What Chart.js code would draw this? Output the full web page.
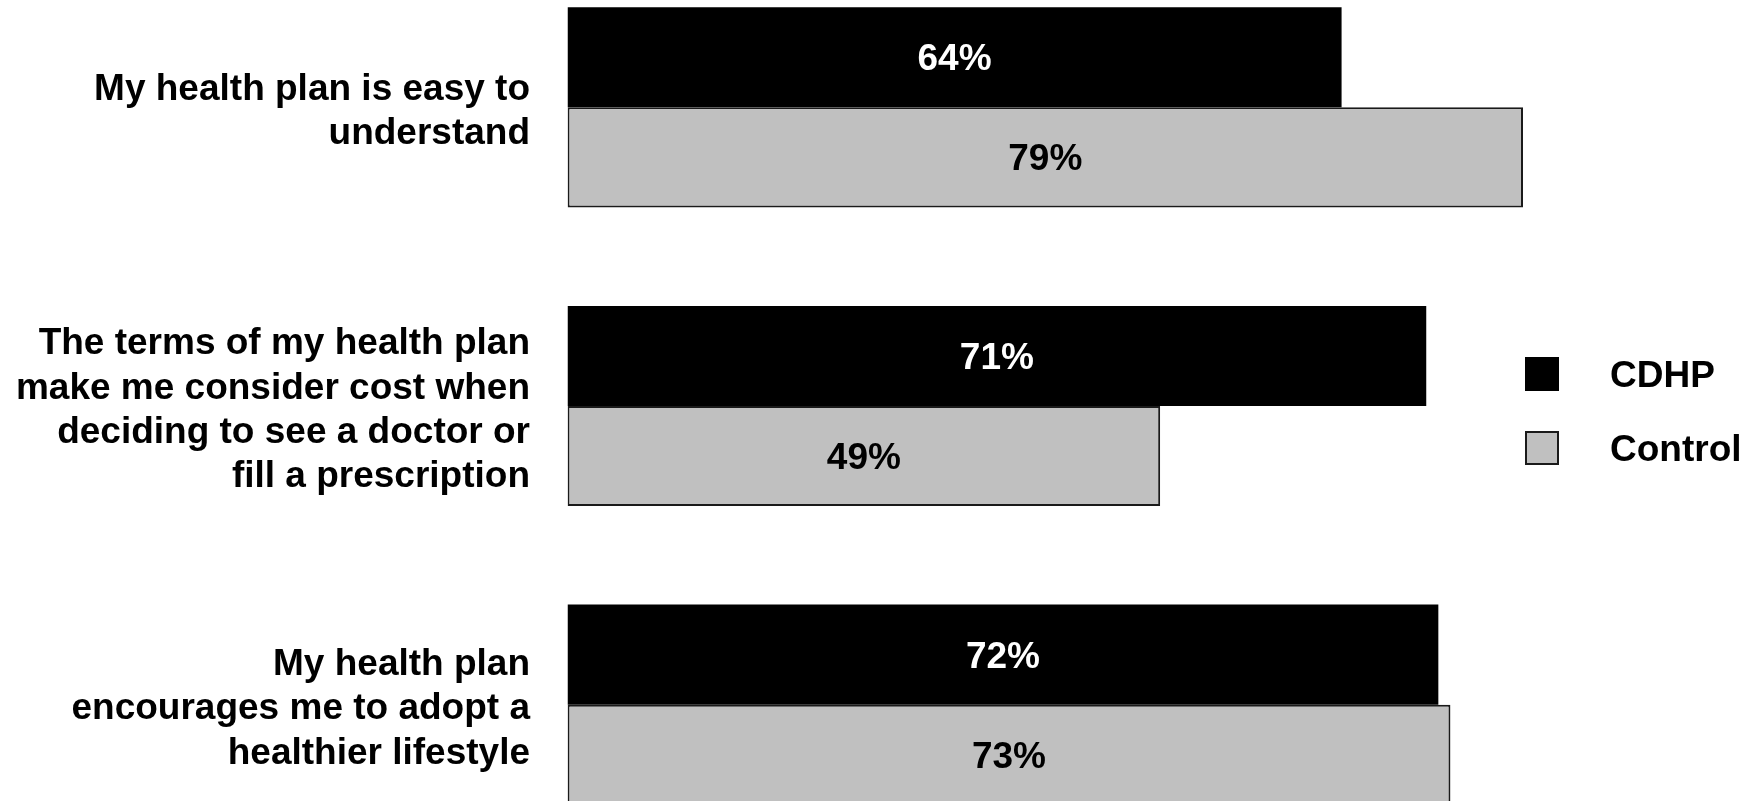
<!DOCTYPE html>
<html>
<head>
<meta charset="utf-8">
<script src="https://cdn.jsdelivr.net/npm/chart.js@4.4.1/dist/chart.umd.min.js"></script>
<style>
  html, body { margin: 0; padding: 0; background: #ffffff; overflow: hidden; width: 1755px; height: 801px; }
  #wrap { position: absolute; left: 0; top: -42px; width: 1777px; height: 896px; }
</style>
</head>
<body>
<div id="wrap"><canvas id="c" width="1777" height="896"></canvas></div>
<script>
// Survey statements (multi-line category labels)
const categories = [
  ["My health plan is easy to", "understand"],
  ["The terms of my health plan", "make me consider cost when", "deciding to see a doctor or", "fill a prescription"],
  ["My health plan", "encourages me to adopt a", "healthier lifestyle"]
];
const seriesNames = ["CDHP", "Control"];
// Percent agreeing, per group
const cdhpValues = [64, 71, 72];
const controlValues = [79, 49, 73];

const FONT = "'Liberation Sans', Arial, Helvetica, sans-serif";
const WRAP_TOP = 42; // canvas sits 42px above the page top
const BLACK = "#000000";
const GREY = "#c0c0c0";
const EDGE = "#1a1a1a";

// Percentages written in the middle of each bar
const barValueLabels = {
  id: "barValueLabels",
  afterDatasetsDraw(chart) {
    const ctx = chart.ctx;
    ctx.save();
    ctx.font = "bold 37px " + FONT;
    ctx.textAlign = "center";
    ctx.textBaseline = "alphabetic";
    chart.data.datasets.forEach((ds, di) => {
      const meta = chart.getDatasetMeta(di);
      meta.data.forEach((bar, i) => {
        const cx = (bar.x + bar.base) / 2;
        ctx.fillStyle = di === 0 ? "#ffffff" : "#000000";
        ctx.fillText(ds.data[i] + "%", cx, bar.y + 13);
      });
    });
    ctx.restore();
  }
};

// Legend boxes at the right side
const sideLegend = {
  id: "sideLegend",
  afterDraw(chart) {
    const ctx = chart.ctx;
    ctx.save();
    const boxX = 1525, size = 34;
    const rows = [357, 431];
    chart.data.datasets.forEach((ds, di) => {
      const y = rows[di] + WRAP_TOP;
      ctx.fillStyle = ds.backgroundColor;
      ctx.fillRect(boxX, y, size, size);
      if (di === 1) {
        ctx.strokeStyle = EDGE;
        ctx.lineWidth = 2;
        ctx.strokeRect(boxX + 1, y + 1, size - 2, size - 2);
      }
      ctx.fillStyle = "#000000";
      ctx.font = "bold 37px " + FONT;
      ctx.textAlign = "left";
      ctx.textBaseline = "alphabetic";
      ctx.fillText(ds.label, 1610, y + size / 2 + 13);
    });
    ctx.restore();
  }
};

new Chart(document.getElementById("c"), {
  type: "bar",
  data: {
    labels: categories,
    datasets: [
      {
        label: seriesNames[0],
        data: cdhpValues,
        backgroundColor: BLACK,
        borderColor: BLACK,
        borderWidth: 0,
        categoryPercentage: 0.67,
        barPercentage: 1.0
      },
      {
        label: seriesNames[1],
        data: controlValues,
        backgroundColor: GREY,
        borderColor: EDGE,
        borderWidth: 2,
        borderSkipped: false,
        categoryPercentage: 0.67,
        barPercentage: 1.0
      }
    ]
  },
  options: {
    indexAxis: "y",
    responsive: false,
    animation: false,
    devicePixelRatio: 1,
    layout: { padding: 0 },
    plugins: {
      legend: { display: false },
      tooltip: { enabled: false },
      title: { display: false }
    },
    scales: {
      x: {
        display: false,
        min: 0,
        max: 100
      },
      y: {
        grid: { display: false, drawTicks: false },
        border: { display: false },
        ticks: {
          color: "#000000",
          padding: 37.5,
          labelOffset: 4.5,
          font: { family: FONT, size: 37, weight: "bold", lineHeight: 1.2 }
        },
        afterFit(scale) {
          scale.width = 567.5;
          scale.paddingTop = 0;
          scale.paddingBottom = 0;
        }
      }
    }
  },
  plugins: [barValueLabels, sideLegend]
});
</script>
</body>
</html>
